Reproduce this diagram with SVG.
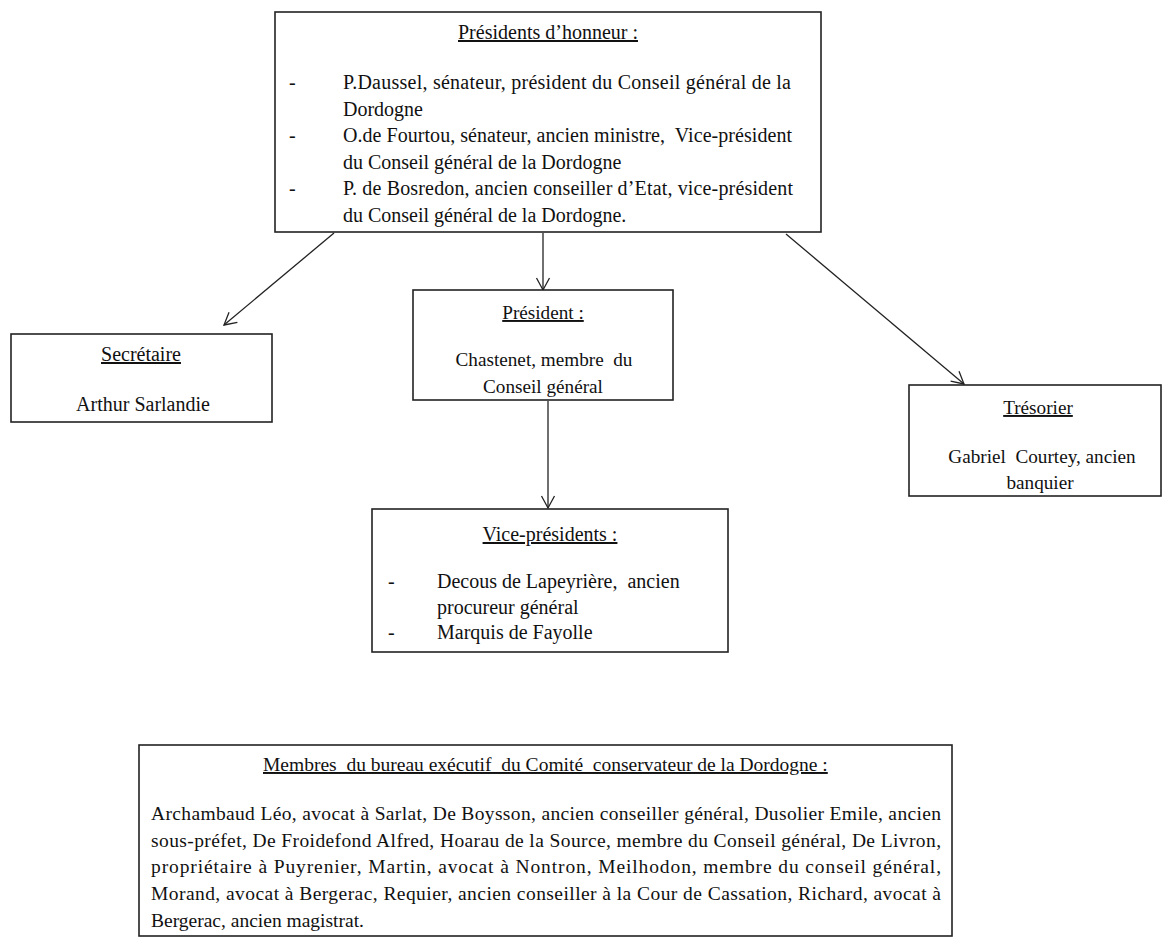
<svg xmlns="http://www.w3.org/2000/svg" width="1163" height="938" viewBox="0 0 1163 938">
<defs>
<marker id="arr" markerUnits="userSpaceOnUse" markerWidth="16" markerHeight="16" refX="13" refY="8" orient="auto">
<path d="M1,1.5 L13,8 L1,14.5" fill="none" stroke="#222" stroke-width="1.3"/>
</marker>
</defs>
<style>
.box{fill:#fff;stroke:#222;stroke-width:1.6}
.t{font-family:"Liberation Serif","Times New Roman",serif;font-size:20px;fill:#111;white-space:pre}
.m{font-size:19.2px}
.s{font-family:"Liberation Serif","Times New Roman",serif;font-size:19.5px;fill:#111;white-space:pre}
.c{text-anchor:middle}
.u{text-decoration:underline}
.conn{stroke:#222;stroke-width:1.3;fill:none}
</style>
<rect width="1163" height="938" fill="#fff"/>
<g id="connectors">
<line class="conn" x1="334" y1="233" x2="224" y2="325" marker-end="url(#arr)"/>
<line class="conn" x1="543" y1="233" x2="543" y2="290" marker-end="url(#arr)"/>
<line class="conn" x1="786" y1="234" x2="964" y2="384" marker-end="url(#arr)"/>
<line class="conn" x1="548" y1="401" x2="548" y2="508" marker-end="url(#arr)"/>
</g>
<g id="presidents-honneur">
<rect class="box" x="275" y="12" width="546" height="220"/>
<text class="t c u" x="548" y="39">Présidents d’honneur :</text>
<text class="t" x="289" y="89">-</text>
<text class="t" x="343" y="89" textLength="448" lengthAdjust="spacing">P.Daussel, sénateur, président du Conseil général de la</text>
<text class="t" x="343" y="116">Dordogne</text>
<text class="t" x="289" y="142">-</text>
<text class="t" x="343" y="142" xml:space="preserve" textLength="449" lengthAdjust="spacing">O.de Fourtou, sénateur, ancien ministre,  Vice-président</text>
<text class="t" x="343" y="169">du Conseil général de la Dordogne</text>
<text class="t" x="289" y="195">-</text>
<text class="t" x="343" y="195" textLength="450" lengthAdjust="spacing">P. de Bosredon, ancien conseiller d’Etat, vice-président</text>
<text class="t" x="343" y="222">du Conseil général de la Dordogne.</text>
</g>
<g id="secretaire">
<rect class="box" x="11" y="334" width="261" height="88"/>
<text class="t c u" x="141" y="361">Secrétaire</text>
<text class="t c" x="143" y="411">Arthur Sarlandie</text>
</g>
<g id="president">
<rect class="box" x="413" y="290" width="260" height="110"/>
<text class="t m c u" x="543" y="319">Président :</text>
<text class="t m c" x="544" y="366" xml:space="preserve">Chastenet, membre  du</text>
<text class="t m c" x="543" y="393">Conseil général</text>
</g>
<g id="tresorier">
<rect class="box" x="909" y="385" width="252" height="111"/>
<text class="t m c u" x="1038" y="414">Trésorier</text>
<text class="t m c" x="1042" y="463" xml:space="preserve">Gabriel  Courtey, ancien</text>
<text class="t m c" x="1040" y="489">banquier</text>
</g>
<g id="vice-presidents">
<rect class="box" x="372" y="509" width="356" height="143"/>
<text class="t c u" x="550" y="541">Vice-présidents :</text>
<text class="t" x="388" y="588">-</text>
<text class="t" x="437" y="588" xml:space="preserve">Decous de Lapeyrière,  ancien</text>
<text class="t" x="437" y="614">procureur général</text>
<text class="t" x="388" y="639">-</text>
<text class="t" x="437" y="639">Marquis de Fayolle</text>
</g>
<g id="bureau-executif">
<rect class="box" x="139" y="745" width="813" height="191"/>
<text class="s u" x="263" y="771" xml:space="preserve">Membres  du bureau exécutif  du Comité  conservateur de la Dordogne :</text>
<text class="s" x="151" y="820" textLength="790" lengthAdjust="spacing">Archambaud Léo, avocat à Sarlat, De Boysson, ancien conseiller général, Dusolier Emile, ancien</text>
<text class="s" x="151" y="847" textLength="790" lengthAdjust="spacing">sous-préfet, De Froidefond Alfred, Hoarau de la Source, membre du Conseil général, De Livron,</text>
<text class="s" x="151" y="873" textLength="790" lengthAdjust="spacing">propriétaire à Puyrenier, Martin, avocat à Nontron, Meilhodon, membre du conseil général,</text>
<text class="s" x="151" y="900" textLength="790" lengthAdjust="spacing">Morand, avocat à Bergerac, Requier, ancien conseiller à la Cour de Cassation, Richard, avocat à</text>
<text class="s" x="151" y="927">Bergerac, ancien magistrat.</text>
</g>
</svg>
